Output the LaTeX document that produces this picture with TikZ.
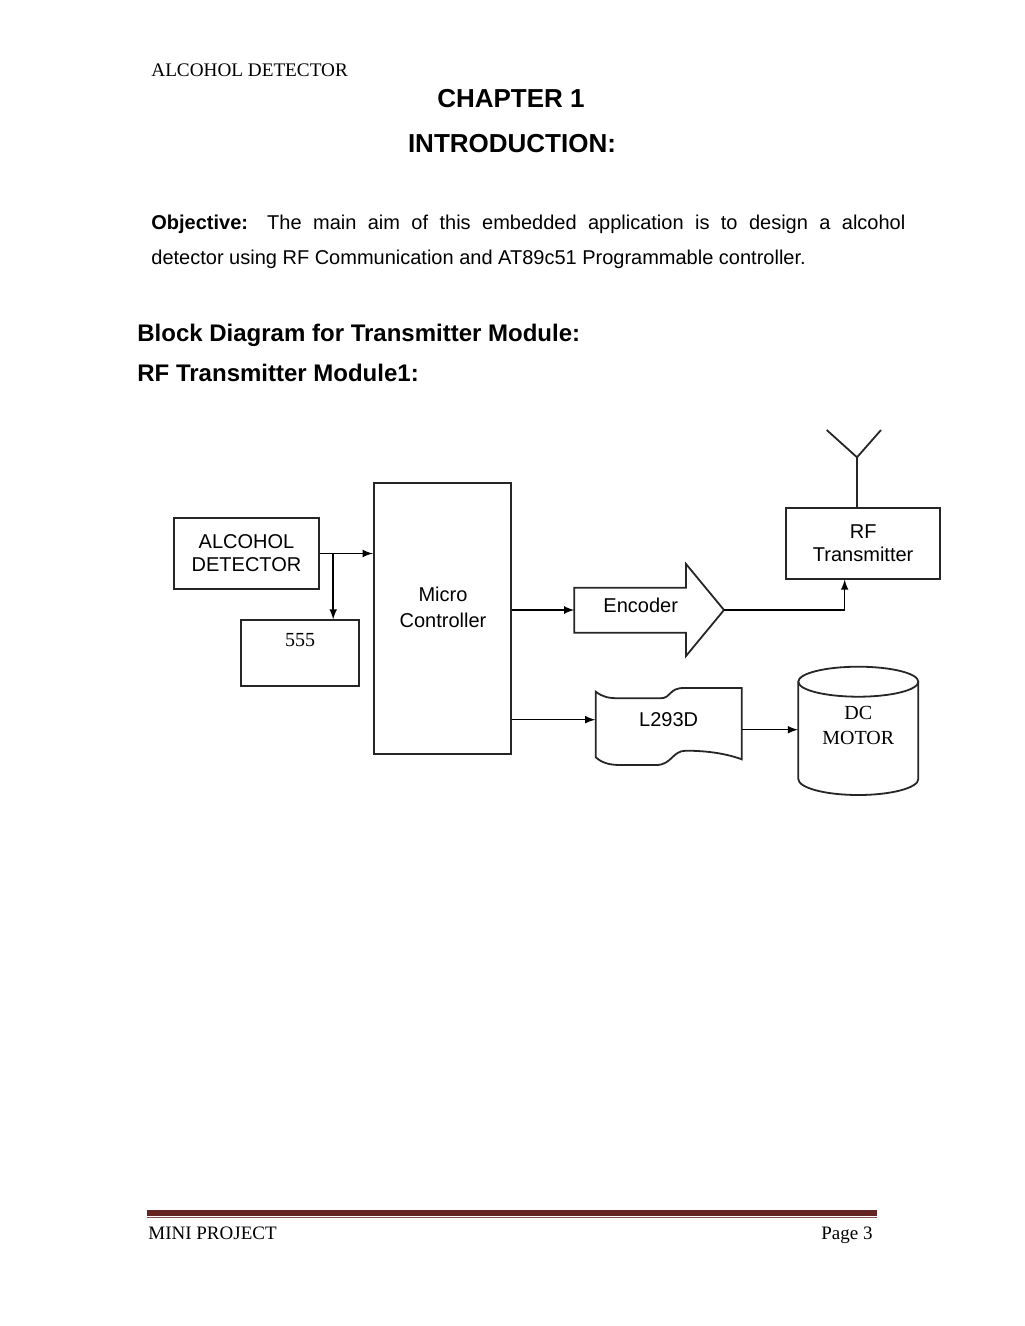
\documentclass[tikz,border=0pt]{standalone}
\usepackage{fontspec}
\setmainfont{Liberation Serif}
\setsansfont{Liberation Sans}
\usepackage{tikz}
\usetikzlibrary{calc,arrows}
\definecolor{footred}{RGB}{99,36,35}

\tikzset{
	blk/.style={draw=black!85, line width=0.9pt, font=\sffamily\fontsize{10}{11.5}\selectfont, align=center},
	wire/.style={line width=0.75pt, ->, >=latex},
	lbl/.style={font=\sffamily\fontsize{10}{12.8}\selectfont, align=center},
	tms/.style={font=\rmfamily\fontsize{10}{12.5}\selectfont, align=center},
	head/.style={font=\sffamily\bfseries\fontsize{12}{14}\selectfont, anchor=base west, inner sep=0pt},
	ttl/.style={font=\sffamily\bfseries\fontsize{13}{15}\selectfont, anchor=base, inner sep=0pt},
	txt/.style={font=\sffamily\fontsize{10}{12}\selectfont, anchor=base west, inner sep=0pt},
	foot/.style={font=\rmfamily\fontsize{9.5}{11}\selectfont, inner sep=0pt},
}

\begin{document}
\begin{tikzpicture}[x=0.5pt,y=-0.5pt]
				\useasboundingbox (0,0) rectangle (1024,1326);
				%header and titles
				\node[font=\rmfamily\fontsize{9.6}{11}\selectfont, anchor=base west, inner sep=0pt] (hdr) at (151,77) {ALCOHOL DETECTOR};
				\node[ttl] (chap) at (511,107.5) {CHAPTER 1};
				\node[ttl] (intro) at (512,153) {INTRODUCTION:};
				\node[txt] (obj1) at (151,230) {\makebox[377pt][s]{\textbf{Objective:} The main aim of this embedded application is to design a alcohol}};
				\node[txt] (obj2) at (151,265) {detector using RF Communication and AT89c51 Programmable controller.};
				\node[head] (bd) at (137,342) {Block Diagram for Transmitter Module:};
				\node[head] (rfm) at (137,381.5) {RF Transmitter Module1:};
				
				%sensor side
				\node[blk, minimum width=72.5pt, minimum height=35.5pt] (ad) at (246.5,553.5) {ALCOHOL\\DETECTOR};
				\node[blk, minimum width=59.3pt, minimum height=32.7pt] (ic) at (300,653) {};
				\node[tms, anchor=north] (ictxt) at ($(ic.north)+(0,7)$) {555};
				\node[blk, minimum width=68.65pt, minimum height=135.5pt] (mc) at (442.35,618.8) {};
				\node[lbl] (mctxt) at (443,607.6) {Micro\\Controller};
				\coordinate (br) at ($(ad.east)+(13.3,0)$);
				\draw[wire] (ad.east) -- (ad.east -| mc.west);
				\draw[wire] (br) -- (br |- ic.north);
				
				%encoder
				\node[lbl] (enc) at (640.7,605) {Encoder};
				\draw[line width=0.9pt, black!85] (574.3,587.7) -- (686,587.7) -- (686,564) -- (724,610) -- (686,656) -- (686,632.7) -- (574.3,632.7) -- cycle;
				\coordinate (enctail) at (574.3,610);
				\coordinate (enctip) at (724,610);
				\draw[wire] (mc.east |- enctail) -- (enctail);
				
				%rf transmitter
				\node[blk, minimum width=76.85pt, minimum height=35.2pt] (rf) at (863.15,543.5) {RF\\Transmitter};
				\draw[wire] (enctip) -| ($(rf.south)+(-18.5,0)$);
				\coordinate (ant) at (857,457.3);
				\draw[line width=0.9pt, black!85] (rf.north -| ant) -- (ant) -- (826.7,430) (ant) -- (881,430);
				
				%driver
				\node[lbl, minimum width=73pt] (drv) at (668.7,719.7) {L293D};
				\draw[line width=0.9pt, black!85] (595.7,691.7) .. controls (603,697) and (608,698.3) .. (620,698.3) -- (660,698.3)
					.. controls (672,698.3) and (668,688) .. (684,688) -- (741.7,688) -- (741.7,759.3)
					.. controls (722,752) and (700,750.7) .. (686,750.7) .. controls (672,750.7) and (672,765) .. (656,765)
					-- (620,765) .. controls (606,765) and (600,761) .. (595.7,757.3) -- cycle;
				\draw[wire] (mc.east |- drv.west) -- (drv.west);
				
				%motor
				\node[tms, minimum width=60pt] (dc) at (858.3,725.5) {DC\\MOTOR};
				\draw[line width=0.9pt, black!85] (858.3,681.7) ellipse [x radius=60, y radius=15];
				\draw[line width=0.9pt, black!85] (798.3,681.7) -- (798.3,779) arc[start angle=180, end angle=0, x radius=60, y radius=16] -- (918.3,681.7);
				\coordinate (drvout) at ($(drv.east)+(0,10)$);
				\draw[wire] (drvout) -- (drvout -| dc.west);
				
				%footer
				\draw[footred, line width=2.85pt] (147,1213) -- (877,1213);
				\draw[footred!80, line width=0.6pt] (147,1217.8) -- (877,1217.8);
				\node[foot, anchor=base west] (ftl) at (148,1239) {MINI PROJECT};
				\node[foot, anchor=base east] (ftr) at (873,1239) {Page 3};
			\end{tikzpicture}
\end{document}
